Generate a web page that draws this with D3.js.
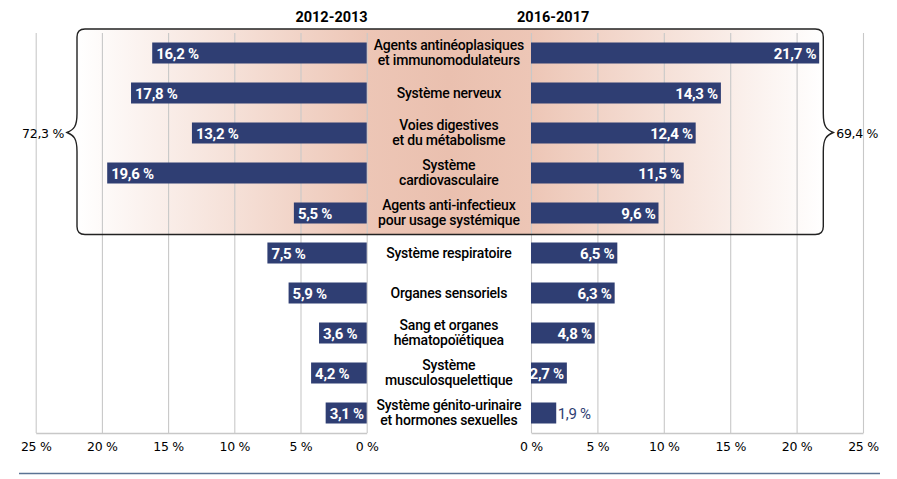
<!DOCTYPE html>
<html>
<head>
<meta charset="utf-8">
<script src="https://cdn.jsdelivr.net/npm/d3@7"></script>
<style>
html,body{margin:0;padding:0;background:#fff;}
svg{display:block;}
</style>
</head>
<body>
<svg id="chart" width="897" height="479"></svg>
<script>
// ---- data ----
const categories = [
  "Agents antinéoplasiques|et immunomodulateurs",
  "Système nerveux",
  "Voies digestives|et du métabolisme",
  "Système|cardiovasculaire",
  "Agents anti-infectieux|pour usage systémique",
  "Système respiratoire",
  "Organes sensoriels",
  "Sang et organes|hématopoïétiquea",
  "Système|musculosquelettique",
  "Système génito-urinaire|et hormones sexuelles"
];
const values2012 = [16.2, 17.8, 13.2, 19.6, 5.5, 7.5, 5.9, 3.6, 4.2, 3.1];
const values2016 = [21.7, 14.3, 12.4, 11.5, 9.6, 6.5, 6.3, 4.8, 2.7, 1.9];
const seriesLabels = ["2012-2013", "2016-2017"];
const tickValues = [0, 5, 10, 15, 20, 25];
const groupTotals = ["72,3 %", "69,4 %"];
const groupCount = 5;

const fmt = v => String(v).replace(".", ",") + " %";

// ---- layout ----
const svg = d3.select("#chart");
const yTop = 33, yBottom = 433;
const xL = d3.scaleLinear().domain([0, 25]).range([366.7, 35.7]);
const xR = d3.scaleLinear().domain([0, 25]).range([531, 863]);
const y = d3.scaleBand().domain(categories).range([yTop, yBottom]).paddingInner(0.475).paddingOuter(0.2375);
const barColor = "#2f3e73";

// gradient
const defs = svg.append("defs");
const boxL = 77, boxR = 823.3;
const grad = defs.append("linearGradient").attr("id", "g").attr("gradientUnits", "userSpaceOnUse")
  .attr("x1", boxL).attr("x2", boxR).attr("y1", 0).attr("y2", 0);
const w = boxR - boxL;
grad.append("stop").attr("offset", 0).attr("stop-color", "#ffffff");
grad.append("stop").attr("offset", (xL(0) - boxL) / w).attr("stop-color", "#edc6b6");
grad.append("stop").attr("offset", ((xL(0) + xR(0)) / 2 - boxL) / w).attr("stop-color", "#eac0af");
grad.append("stop").attr("offset", (xR(0) - boxL) / w).attr("stop-color", "#edc6b6");
grad.append("stop").attr("offset", 1).attr("stop-color", "#ffffff");

// box extent from band scale
const step = y.step();
const boxTop = y(categories[0]) - (step - y.bandwidth()) / 2 - 4;
const boxBot = y(categories[groupCount - 1]) + y.bandwidth() + (step - y.bandwidth()) / 2 + 1.5;
const braceY = (y(categories[2]) + y.bandwidth() / 2) - 0.5;
const r = 8;

svg.append("rect").attr("x", boxL).attr("y", boxTop).attr("width", w).attr("height", boxBot - boxTop)
  .attr("rx", r).attr("fill", "url(#g)");

// axes / grid
function drawAxis(scale) {
  const g = svg.append("g").attr("transform", `translate(0,${yBottom})`)
    .call(d3.axisBottom(scale).tickValues(tickValues).tickSize(-(yBottom - yTop)).tickSizeOuter(0)
      .tickPadding(9).tickFormat(d => d + " %"));
  g.select(".domain").attr("stroke", "#c8c8c8").attr("stroke-width", 1.3);
  g.selectAll(".tick line").attr("stroke", "#c8c8c8").attr("stroke-width", 1.1);
  g.selectAll(".tick text").attr("fill", "#000").style("font-family", "'DejaVu Sans', sans-serif")
    .style("font-size", "12.5px").style("letter-spacing", "-0.3px");
}
drawAxis(xL);
drawAxis(xR);

// bars
const rows = categories.map((c, i) => ({ c, a: values2012[i], b: values2016[i] }));
svg.append("g").selectAll("rect").data(rows).join("rect")
  .attr("x", d => xL(d.a)).attr("y", d => y(d.c))
  .attr("width", d => xL(0) - xL(d.a)).attr("height", y.bandwidth()).attr("fill", barColor);
svg.append("g").selectAll("rect").data(rows).join("rect")
  .attr("x", xR(0)).attr("y", d => y(d.c))
  .attr("width", d => xR(d.b) - xR(0)).attr("height", y.bandwidth()).attr("fill", barColor);

const valFont = "Roboto, sans-serif";
svg.append("g").selectAll("text").data(rows).join("text")
  .attr("x", d => xL(d.a) + 4).attr("y", d => y(d.c) + y.bandwidth() / 2 + 5.5)
  .attr("fill", "#fff").style("font-family", valFont).style("font-weight", "bold").style("font-size", "15px")
  .style("letter-spacing", "-0.3px")
  .text(d => fmt(d.a));
svg.append("g").selectAll("text").data(rows).join("text")
  .attr("x", d => d.b < 2.5 ? xR(d.b) + 1.5 : xR(d.b) - 3)
  .attr("text-anchor", d => d.b < 2.5 ? "start" : "end")
  .attr("y", d => y(d.c) + y.bandwidth() / 2 + 5.5)
  .attr("fill", d => d.b < 2.5 ? barColor : "#fff")
  .style("font-family", valFont).style("font-weight", d => d.b < 2.5 ? "normal" : "bold").style("font-size", "15px")
  .style("letter-spacing", "-0.3px")
  .text(d => fmt(d.b));

// category labels
const cx = (xL(0) + xR(0)) / 2;
const lab = svg.append("g").selectAll("text").data(rows).join("text")
  .attr("text-anchor", "middle").attr("fill", "#000")
  .style("font-family", "Roboto, sans-serif").style("font-weight", "500").style("font-size", "14px").style("letter-spacing", "-0.2px");
lab.each(function (d) {
  const lines = d.c.split("|");
  const cy = y(d.c) + y.bandwidth() / 2;
  const t = d3.select(this);
  lines.forEach((ln, k) => {
    const off = lines.length === 1 ? 5 : (k === 0 ? -3.5 : 12);
    t.append("tspan").attr("x", cx).attr("y", cy + off).text(ln);
  });
});

// headers
svg.append("text").attr("x", xL(0) + 1).attr("y", 22).attr("text-anchor", "end")
  .style("font-family", "Roboto, sans-serif").style("font-weight", "bold").style("font-size", "14.5px")
  .attr("fill", "#000").text(seriesLabels[0]);
svg.append("text").attr("x", 517).attr("y", 22).attr("text-anchor", "start")
  .style("font-family", "Roboto, sans-serif").style("font-weight", "bold").style("font-size", "14.5px")
  .attr("fill", "#000").text(seriesLabels[1]);

// box border with braces
const bw = 10, bh = 19;
const p = d3.path();
p.moveTo(boxL + r, boxTop);
p.lineTo(boxR - r, boxTop);
p.quadraticCurveTo(boxR, boxTop, boxR, boxTop + r);
p.lineTo(boxR, braceY - bh);
p.bezierCurveTo(boxR, braceY - 6, boxR + 3, braceY - 3, boxR + bw, braceY);
p.bezierCurveTo(boxR + 3, braceY + 3, boxR, braceY + 6, boxR, braceY + bh);
p.lineTo(boxR, boxBot - r);
p.quadraticCurveTo(boxR, boxBot, boxR - r, boxBot);
p.lineTo(boxL + r, boxBot);
p.quadraticCurveTo(boxL, boxBot, boxL, boxBot - r);
p.lineTo(boxL, braceY + bh);
p.bezierCurveTo(boxL, braceY + 6, boxL - 3, braceY + 3, boxL - bw, braceY);
p.bezierCurveTo(boxL - 3, braceY - 3, boxL, braceY - 6, boxL, braceY - bh);
p.lineTo(boxL, boxTop + r);
p.quadraticCurveTo(boxL, boxTop, boxL + r, boxTop);
p.closePath();
svg.append("path").attr("d", p.toString()).attr("fill", "none").attr("stroke", "#222").attr("stroke-width", 1.4);

svg.append("text").attr("x", boxL - bw - 3).attr("y", braceY + 5).attr("text-anchor", "end")
  .style("font-family", "'DejaVu Sans', sans-serif").style("font-size", "12.5px").style("letter-spacing", "-0.3px")
  .attr("fill", "#000").text(groupTotals[0]);
svg.append("text").attr("x", boxR + bw + 3).attr("y", braceY + 5).attr("text-anchor", "start")
  .style("font-family", "'DejaVu Sans', sans-serif").style("font-size", "12.5px").style("letter-spacing", "-0.3px")
  .attr("fill", "#000").text(groupTotals[1]);

// bottom separator
svg.append("line").attr("x1", 19).attr("x2", 880).attr("y1", 473.5).attr("y2", 473.5)
  .attr("stroke", "#5b7394").attr("stroke-width", 1.4);
</script>
</body>
</html>
